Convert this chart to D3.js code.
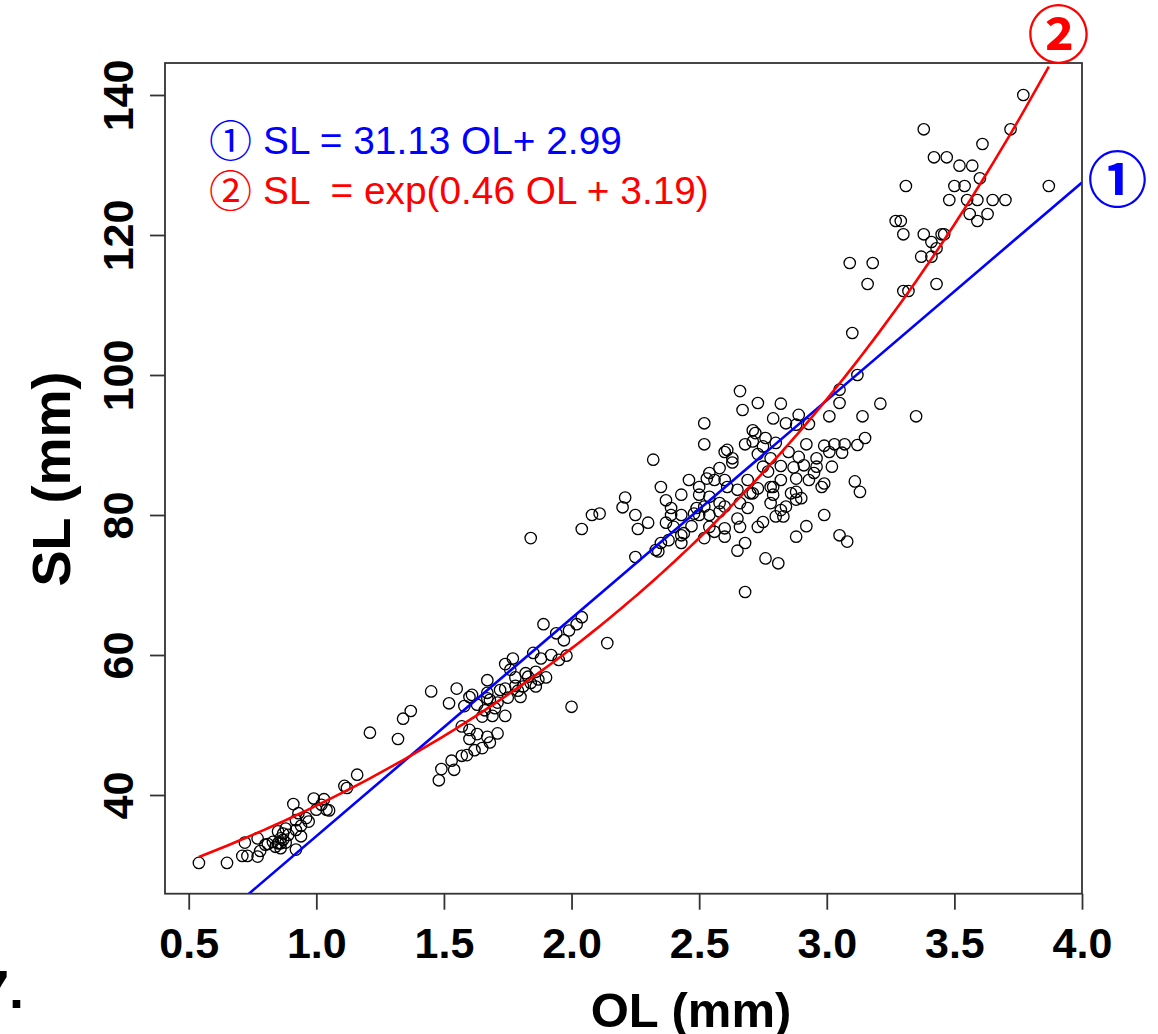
<!DOCTYPE html>
<html>
<head>
<meta charset="utf-8">
<script src="https://cdn.jsdelivr.net/npm/d3@7"></script>
<style>
  body { margin: 0; background: #fff; }
  svg { display: block; }
</style>
</head>
<body>
<svg id="chart" width="1158" height="1034"></svg>
<script>
// ---------------- data ----------------
const xTicks = [0.5, 1.0, 1.5, 2.0, 2.5, 3.0, 3.5, 4.0];
const yTicks = [40, 60, 80, 100, 120, 140];

// [OL (mm), SL (mm)]
const smallFish = [
  [0.54,30.3],[0.65,30.3],[0.71,31.3],[0.73,31.3],[0.77,31.2],[0.72,33.2],[0.77,33.8],[0.78,32.0],
  [0.80,32.9],[0.81,33.0],[0.83,33.3],[0.85,34.8],[0.85,33.1],[0.86,33.8],[0.86,32.4],[0.87,34.5],
  [0.88,35.2],[0.86,33.1],[0.88,33.2],[0.84,32.6],[0.87,33.6],[0.89,34.3],[0.91,38.7],[0.92,36.4],
  [0.92,35.0],[0.94,34.1],[0.92,32.2],[0.93,37.4],[0.96,36.7],[0.97,36.2],[0.94,35.6],[0.99,39.5],
  [1.00,37.9],[1.02,38.6],[1.03,39.4],[1.04,37.9],[1.05,37.8],[1.11,41.3],[1.12,41.0],[1.16,42.9],
  [1.21,48.9],[1.32,48.0],[1.34,50.9],[1.37,52.0]
];
const mediumFish = [
  [1.45,54.8],[1.55,55.2],[1.52,53.1],[1.58,52.7],[1.60,54.0],[1.61,54.3],[1.63,52.9],[1.65,51.2],
  [1.67,53.8],[1.67,56.4],[1.68,53.6],[1.70,52.4],[1.69,51.3],[1.74,51.3],[1.72,55.0],[1.74,55.2],
  [1.74,58.7],[1.77,59.5],[1.76,57.9],[1.78,56.8],[1.79,54.9],[1.80,54.0],[1.81,55.5],[1.82,57.4],
  [1.84,56.0],[1.85,60.3],[1.86,55.5],[1.87,56.5],[1.88,59.5],[1.89,64.4],[1.90,56.8],[1.92,60.0],
  [1.94,63.1],[1.95,59.3],[1.97,62.1],[1.98,59.9],[1.99,63.5],[2.00,52.6],[2.02,64.4],[2.04,65.4],
  [2.14,61.7],[1.57,49.8],[1.60,49.3],[1.60,48.0],[1.63,48.7],[1.67,48.3],[1.68,47.5],[1.71,48.8],
  [1.65,46.7],[1.62,46.4],[1.59,45.7],[1.57,45.6],[1.53,44.9],[1.54,43.6],[1.49,43.7],[1.48,42.1],
  [1.67,54.6],[1.75,53.9],[1.78,55.6],[1.83,56.9],[1.86,57.6],[1.71,53.2],[1.66,52.1],[1.84,76.7],
  [2.04,78.0],[2.08,80.0],[2.11,80.2]
];
const largeFish = [
  [2.66,97.7],[2.67,95.0],[2.73,96.0],[2.52,93.1],[2.52,90.1],[2.71,92.1],[2.68,90.1],[2.71,90.5],
  [2.61,89.3],[2.60,89.0],[2.63,88.1],[2.63,87.5],[2.73,88.7],[2.32,87.9],[2.46,85.0],[2.35,84.0],
  [2.43,82.9],[2.21,82.5],[2.20,81.1],[2.25,80.0],[2.30,78.9],[2.26,78.0],[2.37,82.1],[2.39,81.0],
  [2.39,80.0],[2.43,80.0],[2.37,78.9],[2.40,78.3],[2.43,77.1],[2.43,76.0],[2.38,76.4],[2.47,78.4],
  [2.48,80.2],[2.50,84.0],[2.50,82.9],[2.53,85.2],[2.54,86.0],[2.56,85.0],[2.58,86.7],[2.60,85.0],
  [2.49,81.0],[2.52,81.2],[2.50,80.0],[2.54,80.0],[2.58,81.7],[2.60,81.2],[2.58,80.5],[2.61,84.0],
  [2.65,83.6],[2.69,85.0],[2.70,83.1],[2.71,83.1],[2.66,81.7],[2.69,81.0],[2.65,79.5],[2.66,78.3],
  [2.73,78.3],[2.60,78.1],[2.56,77.6],[2.54,78.3],[2.52,76.7],[2.60,76.9],[2.65,74.9],[2.68,76.0],
  [2.44,77.4],[2.35,76.0],[2.33,75.0],[2.34,74.8],[2.25,74.0],[2.68,69.0],[2.54,82.6],
  [2.82,95.9],[2.79,93.8],[2.84,93.1],[2.89,94.3],[2.88,92.9],[2.93,93.0],[3.01,94.1],[3.05,96.0],
  [3.05,97.9],[3.14,94.1],[3.21,95.9],[3.35,94.1],[2.72,91.7],[2.76,91.0],[2.75,89.8],[2.80,90.3],
  [2.78,88.1],[2.85,89.0],[2.89,88.3],[2.92,90.1],[2.99,89.9],[3.03,90.1],[3.07,90.1],[3.01,89.0],
  [3.06,88.9],[3.12,90.0],[3.15,91.0],[2.75,86.9],[2.77,86.2],[2.82,87.0],[2.87,86.8],[2.91,87.1],
  [2.96,88.1],[2.96,86.9],[3.02,86.9],[2.95,86.0],[2.82,85.0],[2.88,85.2],[2.93,85.0],[2.99,84.5],
  [2.98,84.0],[2.78,84.0],[2.79,84.0],[2.73,83.8],[2.79,82.9],[2.86,83.1],[2.88,83.3],[2.90,82.4],
  [2.88,82.2],[2.78,81.7],[2.84,81.2],[2.82,80.7],[2.80,79.8],[2.83,79.8],[3.11,84.8],[3.13,83.3],
  [2.99,80.0],[2.92,78.4],[2.88,76.9],[2.75,79.0],[3.05,77.1],[3.08,76.2],[2.76,73.8],[2.81,73.1],
  [3.12,100.0]
];
const largestFish = [
  [3.10,106.0],[3.16,113.0],[3.09,116.0],[3.18,116.0],[3.43,113.0],[3.30,112.0],[3.32,112.0],[3.37,116.9],
  [3.41,116.9],[3.41,119.0],[3.43,118.1],[3.38,120.1],[3.30,120.1],[3.45,120.1],[3.46,120.1],[3.27,122.0],
  [3.29,122.0],[3.56,123.0],[3.59,122.0],[3.63,123.0],[3.48,125.0],[3.55,125.0],[3.59,125.0],[3.65,125.0],
  [3.70,125.0],[3.31,127.0],[3.50,127.0],[3.54,127.0],[3.60,128.1],[3.52,129.9],[3.57,129.9],[3.42,131.1],
  [3.47,131.1],[3.61,133.0],[3.38,135.1],[3.72,135.1],[3.77,140.0],[3.87,127.0]
];

// fitted models (coefficients from the legend)
const linearFit = { slope: 31.13, intercept: 2.99 };
const expFit = { rate: 0.46, constant: 3.19 };

const legendItems = [
  { mark: "\u2460", label: "SL = 31.13 OL+ 2.99", color: "#0000ff" },
  { mark: "\u2461", label: "SL  = exp(0.46 OL + 3.19)", color: "#ff0000" }
];

// ---------------- drawing ----------------
const points = [...smallFish, ...mediumFish, ...largeFish, ...largestFish];
const svg = d3.select("#chart");
svg.append("rect").attr("width", 1158).attr("height", 1034).attr("fill", "#fff");

const plot = { left: 165, right: 1082, top: 63, bottom: 893.7 };
const x = d3.scaleLinear().domain([0.4071, 4.0]).range([plot.left, plot.right]);
const y = d3.scaleLinear().domain([25.9, 144.57]).range([plot.bottom, plot.top]);

const sansBold = "'Liberation Sans', Arial, Helvetica, sans-serif";
const cjk = "'Noto Sans CJK JP', 'Noto Sans CJK SC', sans-serif";

svg.append("defs").append("clipPath").attr("id", "clip")
  .append("rect")
  .attr("x", plot.left).attr("y", plot.top)
  .attr("width", plot.right - plot.left).attr("height", plot.bottom - plot.top);

// points
svg.append("g").selectAll("circle").data(points).join("circle")
  .attr("cx", d => x(d[0])).attr("cy", d => y(d[1]))
  .attr("r", 5.7)
  .attr("fill", "none").attr("stroke", "#000").attr("stroke-width", 1.3);

const lines = svg.append("g").attr("clip-path", "url(#clip)");

// linear fit (abline across the full x range)
const xd = x.domain();
lines.append("path")
  .datum(xd.map(v => [v, linearFit.slope * v + linearFit.intercept]))
  .attr("d", d3.line().x(d => x(d[0])).y(d => y(d[1])))
  .attr("fill", "none").attr("stroke", "#0000ff").attr("stroke-width", 2.6);

// exponential fit, through fitted values at the sorted observed OL
const sortedOL = points.map(p => p[0]).sort(d3.ascending);
lines.append("path")
  .datum(sortedOL.map(v => [v, Math.exp(expFit.rate * v + expFit.constant)]))
  .attr("d", d3.line().x(d => x(d[0])).y(d => y(d[1])))
  .attr("fill", "none").attr("stroke", "#ff0000").attr("stroke-width", 2.6);

// frame
svg.append("rect")
  .attr("x", plot.left).attr("y", plot.top)
  .attr("width", plot.right - plot.left).attr("height", plot.bottom - plot.top)
  .attr("fill", "none").attr("stroke", "#333").attr("stroke-width", 1.8);

// x axis
const gx = svg.append("g").attr("transform", `translate(0,${plot.bottom})`)
  .call(d3.axisBottom(x).tickValues(xTicks).tickFormat(d3.format(".1f"))
    .tickSize(16).tickSizeOuter(0).tickPadding(18));
gx.select(".domain").remove();
gx.selectAll(".tick line").attr("stroke", "#333").attr("stroke-width", 1.8);
gx.selectAll(".tick text")
  .attr("font-family", sansBold).attr("font-weight", "bold")
  .attr("font-size", 43).attr("fill", "#000");

// y axis
const gy = svg.append("g").attr("transform", `translate(${plot.left},0)`)
  .call(d3.axisLeft(y).tickValues(yTicks).tickSize(15).tickSizeOuter(0));
gy.select(".domain").remove();
gy.selectAll(".tick line").attr("stroke", "#333").attr("stroke-width", 1.8);
gy.selectAll(".tick text")
  .attr("x", null).attr("dy", null)
  .attr("text-anchor", "middle")
  .attr("transform", "translate(-32,0) rotate(-90)")
  .attr("font-family", sansBold).attr("font-weight", "bold")
  .attr("font-size", 43).attr("fill", "#000");

// axis titles
svg.append("text")
  .attr("x", 691).attr("y", 1027).attr("text-anchor", "middle")
  .attr("font-family", sansBold).attr("font-weight", "bold").attr("font-size", 49)
  .text("OL (mm)");
svg.append("text")
  .attr("transform", "translate(70,479) rotate(-90)").attr("text-anchor", "middle")
  .attr("font-family", sansBold).attr("font-weight", "bold").attr("font-size", 54)
  .text("SL (mm)");

// panel label (cut by the left edge)
svg.append("text")
  .attr("x", -21).attr("y", 1008)
  .attr("font-family", sansBold).attr("font-weight", "bold").attr("font-size", 54)
  .text("7.");

// legend
const legend = svg.append("g");
legendItems.forEach((it, i) => {
  const base = 154 + i * 50;
  legend.append("text")
    .attr("x", 230.5).attr("y", base - 16.5)
    .attr("text-anchor", "middle").attr("dominant-baseline", "central")
    .attr("font-family", cjk).attr("font-size", 43).attr("fill", it.color)
    .text(it.mark);
  legend.append("text")
    .attr("x", 263).attr("y", base)
    .attr("font-family", sansBold).attr("font-size", 38.8).attr("fill", it.color)
    .style("white-space", "pre")
    .text(it.label);
});

// curve end markers
svg.append("text")
  .attr("x", 1058.5).attr("y", 31)
  .attr("text-anchor", "middle").attr("dominant-baseline", "central")
  .attr("font-family", cjk).attr("font-weight", "bold").attr("font-size", 62)
  .attr("fill", legendItems[1].color).text(legendItems[1].mark);
svg.append("text")
  .attr("x", 1117.5).attr("y", 175)
  .attr("text-anchor", "middle").attr("dominant-baseline", "central")
  .attr("font-family", cjk).attr("font-weight", "bold").attr("font-size", 60)
  .attr("fill", legendItems[0].color).text(legendItems[0].mark);
</script>
</body>
</html>
